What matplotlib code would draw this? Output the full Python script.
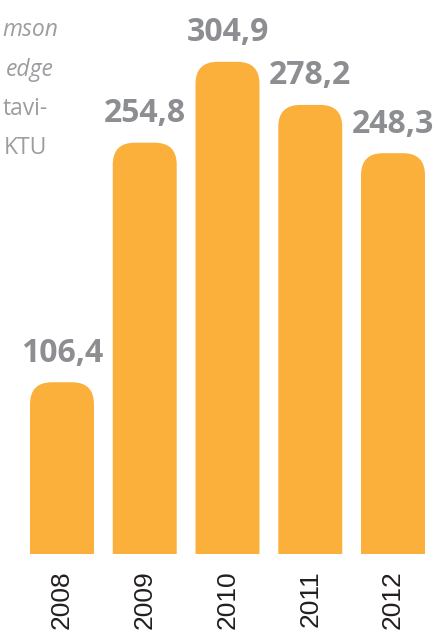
import matplotlib
matplotlib.use("Agg")
import matplotlib.pyplot as plt
from matplotlib.patches import FancyBboxPatch

years = ["2008", "2009", "2010", "2011", "2012"]
values = [106.4, 254.8, 304.9, 278.2, 248.3]
value_labels = ["106,4", "254,8", "304,9", "278,2", "248,3"]
side_lines = ["mson", "edge", "tavi-", "KTU"]
side_styles = ["italic", "italic", "normal", "normal"]

W, H = 443, 637
fig = plt.figure(figsize=(W / 100, H / 100), dpi=100)
ax = fig.add_axes([0, 83 / H, 1, 554 / H])
ax.set_xlim(-0.749, 4.604)
ax.set_ylim(0, 343.2)

bar_color = "#FBB03B"
bars = ax.bar(range(len(years)), values, width=0.773, color=bar_color)

# rounded tops
px_x = W / (4.604 + 0.749)
px_y = 554 / 343.2
r_px = 22
for b in bars:
    b.set_visible(False)
    x0, w, h = b.get_x(), b.get_width(), b.get_height()
    p = FancyBboxPatch((x0, -40), w, h + 40,
                       boxstyle=f"round,pad=0,rounding_size={r_px / px_x}",
                       mutation_aspect=px_x / px_y,
                       facecolor=bar_color, edgecolor="none", clip_on=True)
    ax.add_patch(p)

for i, (v, lab) in enumerate(zip(values, value_labels)):
    ax.annotate(lab, (i, v), xytext=(0, 9), textcoords="offset points",
                ha="center", va="bottom", fontsize=23, fontweight="bold",
                family="Open Sans", color="#8C8E91", annotation_clip=False)

ax.set_xticks(range(len(years)))
ax.set_xticklabels(years, rotation=90, fontsize=19, family="Liberation Sans",
                   color="#231F20")
ax.tick_params(axis="x", length=0, pad=12)
ax.set_yticks([])
for s in ax.spines.values():
    s.set_visible(False)

ys = [30, 70, 109, 148]
xs = [58, 54, 48, 47]
for t, st, x, y in zip(side_lines, side_styles, xs, ys):
    fig.text(x / W, 1 - y / H, t, ha="right", va="center", fontsize=16.5,
             family="Open Sans", style=st, color="#9B9DA0")

fig.savefig("out.png", dpi=100)
